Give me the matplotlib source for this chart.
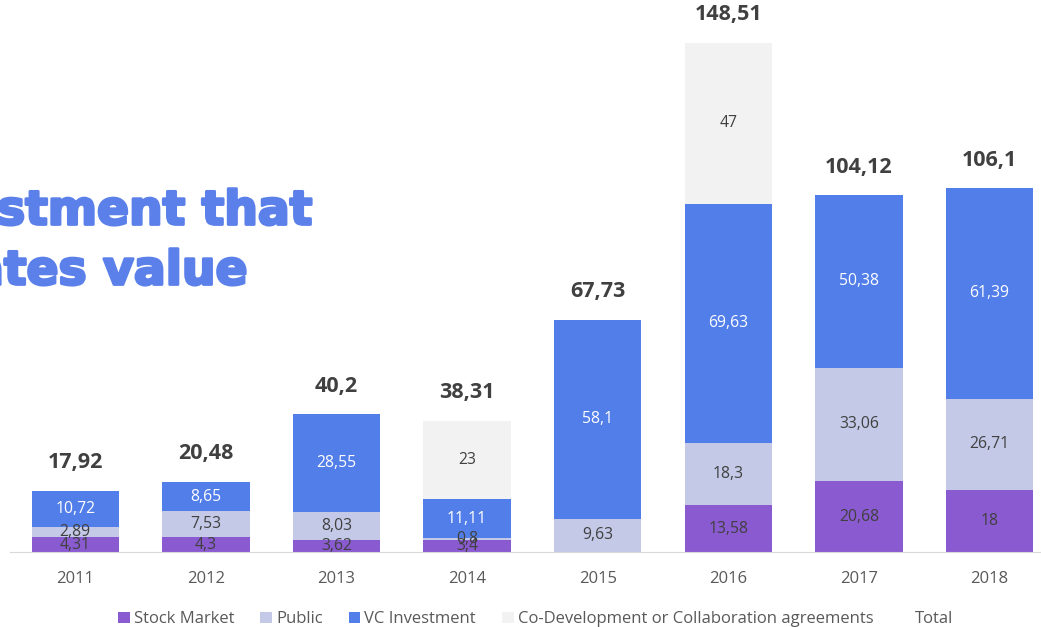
import matplotlib.pyplot as plt
import matplotlib.patheffects as pe
import numpy as np

years = ["2011", "2012", "2013", "2014", "2015", "2016", "2017", "2018"]
stock_market = [4.31, 4.3, 3.62, 3.4, 0, 13.58, 20.68, 18]
public = [2.89, 7.53, 8.03, 0.8, 9.63, 18.3, 33.06, 26.71]
vc_investment = [10.72, 8.65, 28.55, 11.11, 58.1, 69.63, 50.38, 61.39]
co_development = [0, 0, 0, 23, 0, 47, 0, 0]
totals = [17.92, 20.48, 40.2, 38.31, 67.73, 148.51, 104.12, 106.1]

series = [
    ("Stock Market", stock_market, "#8a5ad0", "#404040"),
    ("Public", public, "#c3c9e6", "#404040"),
    ("VC Investment", vc_investment, "#527ee9", "white"),
    ("Co-Development or Collaboration agreements", co_development, "#f2f2f2", "#404040"),
]

plt.rcParams['font.family'] = ['Open Sans', 'DejaVu Sans']

fig = plt.figure(figsize=(10.41, 6.27), dpi=100)
ax = fig.add_axes([10 / 1041, 75 / 627, 1031 / 1041, 552 / 627])

x = np.arange(len(years))
bottom = np.zeros(len(years))
for name, vals, color, tcol in series:
    vals = np.array(vals, dtype=float)
    ax.bar(x, vals, bottom=bottom, width=0.67, color=color, label=name)
    for xi, v, b in zip(x, vals, bottom):
        if v > 0:
            ax.text(xi, b + v / 2, f"{v:g}".replace(".", ","), ha="center", va="center",
                    fontsize=11.3, color=tcol)
    bottom += vals

# invisible "Total" series for the legend
ax.bar(x, np.zeros(len(years)), width=0.67, color="none", label="Total")
for xi, t in zip(x, totals):
    ax.annotate(f"{t:g}".replace(".", ","), (xi, t), xytext=(0, 20), textcoords="offset points",
                ha="center", va="center", fontsize=15.5, fontweight="bold", color="#404040")

ax.set_xlim(-0.5, -0.5 + 1031 / 130.6)
ax.set_ylim(0, 552 / 3.43)
ax.set_xticks(x)
ax.set_xticklabels(years, fontsize=12, color="#595959")
ax.tick_params(axis="x", length=0, pad=14)
ax.set_yticks([])
for s in ["top", "right", "left"]:
    ax.spines[s].set_visible(False)
ax.spines["bottom"].set_color("#d9d9d9")

leg = ax.legend(loc="center", bbox_to_anchor=(0.51, -0.122), ncol=5, frameon=False,
                fontsize=12, handlelength=0.7, handleheight=0.7, columnspacing=1.55,
                handletextpad=0.25, labelcolor="#595959")

title_font = dict(ha="right", va="center", fontsize=34, fontweight="bold",
                  color="#5b80ea", family="DejaVu Sans",
                  path_effects=[pe.withStroke(linewidth=2, foreground="#5b80ea")])
fig.text(313 / 1041, 1 - 212 / 627, "Investment that", **title_font)
fig.text(248 / 1041, 1 - 272 / 627, "creates value", **title_font)

fig.savefig("out.png", dpi=100)
